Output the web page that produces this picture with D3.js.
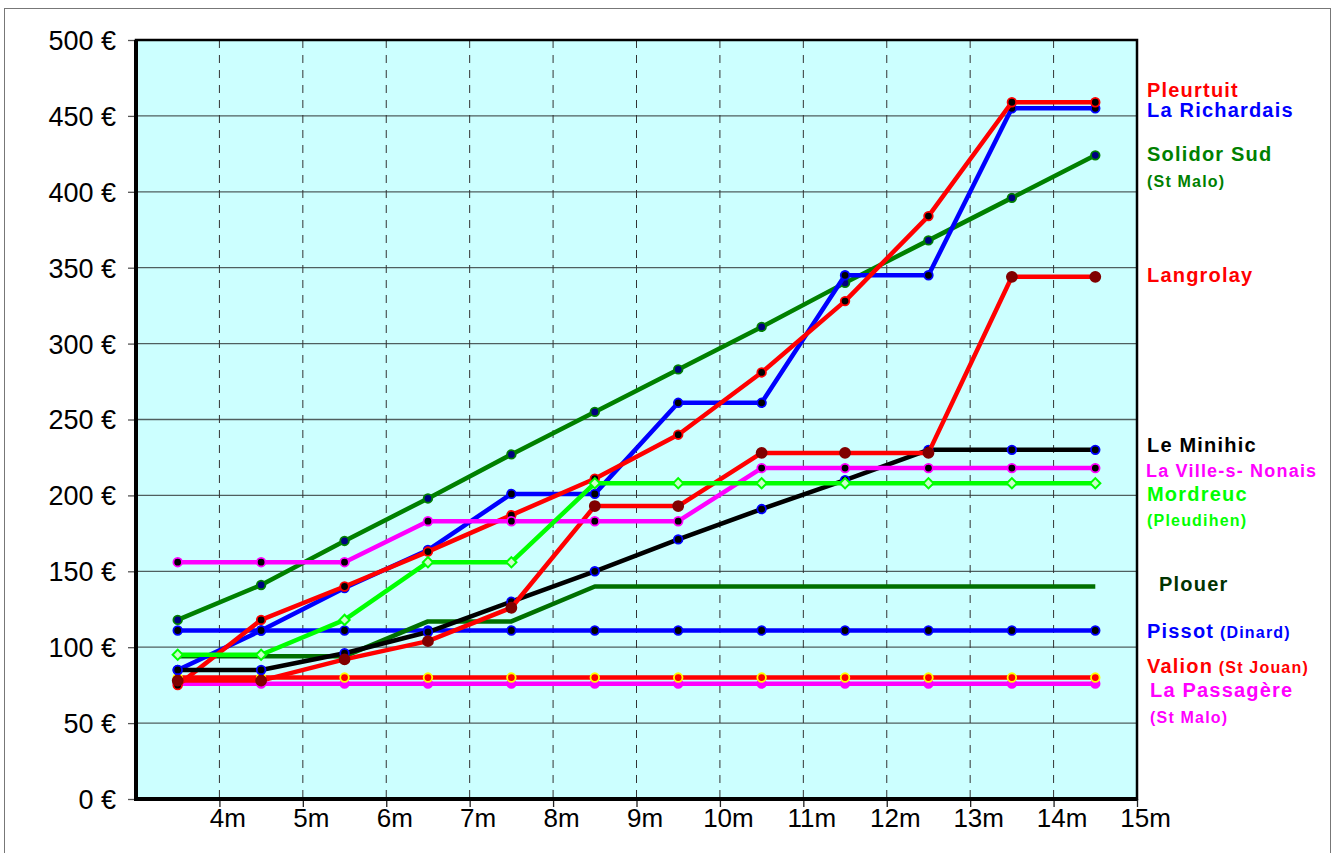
<!DOCTYPE html>
<html>
<head>
<meta charset="utf-8">
<script src="https://cdn.jsdelivr.net/npm/d3@7"></script>
<style>
	body { margin: 0; background: #fff; }
	text { font-family: "Liberation Sans", Arial, sans-serif; }
</style>
</head>
<body>
<div id="chart"></div>
<script>
// boat length (middle of each metre band) and price per series
const sizes = [3.5, 4.5, 5.5, 6.5, 7.5, 8.5, 9.5, 10.5, 11.5, 12.5, 13.5, 14.5];
const xTicks = [4, 5, 6, 7, 8, 9, 10, 11, 12, 13, 14, 15];
const yTicks = [0, 50, 100, 150, 200, 250, 300, 350, 400, 450, 500];

const pleurtuit    = [75, 118, 140, 163, 187, 211, 240, 281, 328, 384, 459, 459];
const laRichardais = [85, 111, 139, 164, 201, 201, 261, 261, 345, 345, 455, 455];
const solidorSud   = [118, 141, 170, 198, 227, 255, 283, 311, 340, 368, 396, 424];
const langrolay    = [78, 78, 92, 104, 126, 193, 193, 228, 228, 228, 344, 344];
const leMinihic    = [85, 85, 96, 110, 130, 150, 171, 191, 210, 230, 230, 230];
const laVille      = [156, 156, 156, 183, 183, 183, 183, 218, 218, 218, 218, 218];
const mordreuc     = [95, 95, 118, 156, 156, 208, 208, 208, 208, 208, 208, 208];
const plouer       = [94, 94, 94, 117, 117, 140, 140, 140, 140, 140, 140, 140];
const pissot       = [111, 111, 111, 111, 111, 111, 111, 111, 111, 111, 111, 111];
const valion       = [80, 80, 80, 80, 80, 80, 80, 80, 80, 80, 80, 80];
const passagere    = [76, 76, 76, 76, 76, 76, 76, 76, 76, 76, 76, 76];

const W = 1337, H = 853;
const plot = {left: 136, right: 1137, top: 40, bottom: 799};

const svg = d3.select("#chart")
	.append("svg")
		.attr("width", W)
		.attr("height", H);

// outer frame
svg.append("rect")
	.attr("x", 4.5).attr("y", 8.5)
	.attr("width", 1326).attr("height", 870)
	.attr("fill", "#fff")
	.attr("stroke", "#777")
	.attr("stroke-width", 1);

const x = d3.scaleLinear()
	.domain([3, 15])
	.range([plot.left, plot.right]);

const y = d3.scaleLinear()
	.domain([0, 500])
	.range([plot.bottom, plot.top]);

// plot background
svg.append("rect")
	.attr("x", plot.left).attr("y", plot.top)
	.attr("width", plot.right - plot.left)
	.attr("height", plot.bottom - plot.top)
	.attr("fill", "#ccffff");

// horizontal grid
svg.append("g")
	.selectAll("line")
	.data(yTicks.slice(1, -1))
	.join("line")
		.attr("x1", plot.left).attr("x2", plot.right)
		.attr("y1", d => y(d)).attr("y2", d => y(d))
		.attr("stroke", "#4f5f5f")
		.attr("stroke-width", 1.3);

// vertical dashed grid
svg.append("g")
	.selectAll("line")
	.data(xTicks.slice(0, -1))
	.join("line")
		.attr("x1", d => x(d)).attr("x2", d => x(d))
		.attr("y1", plot.top).attr("y2", plot.bottom)
		.attr("stroke", "#333")
		.attr("stroke-width", 1)
		.attr("stroke-dasharray", "8,7");

// axes
const yAxis = svg.append("g")
	.attr("transform", `translate(${plot.left},0)`)
	.call(d3.axisLeft(y).tickValues(yTicks).tickSize(8).tickPadding(12)
		.tickFormat(d => d + " €"));
yAxis.select(".domain").remove();
yAxis.selectAll("line").attr("stroke", "#555").attr("stroke-width", 1.3);
yAxis.selectAll("text")
	.attr("fill", "#000")
	.style("font-size", "27px")
	.attr("dy", "0.35em");

const xAxis = svg.append("g")
	.attr("transform", `translate(0,${plot.bottom})`)
	.call(d3.axisBottom(x).tickValues(xTicks).tickSize(8).tickPadding(5)
		.tickFormat(d => d + "m"));
xAxis.select(".domain").remove();
xAxis.selectAll("line").attr("stroke", "#222").attr("stroke-width", 1.3);
xAxis.selectAll("text")
	.attr("fill", "#000")
	.attr("x", 8)
	.attr("y", 28)
	.attr("dy", 0)
	.style("font-size", "26px");

// plot frame
svg.append("rect")
	.attr("x", plot.left).attr("y", plot.top)
	.attr("width", plot.right - plot.left)
	.attr("height", plot.bottom - plot.top)
	.attr("fill", "none")
	.attr("stroke", "#000")
	.attr("stroke-width", 2.5);
svg.append("path")
	.attr("d", `M${plot.left},${plot.top} V${plot.bottom} H${plot.right}`)
	.attr("fill", "none")
	.attr("stroke", "#000")
	.attr("stroke-width", 4);

// series, in drawing order
const series = [
	{values: passagere,    color: "#ff00ff", fill: "#ff00ff", ring: "#ff00ff"},
	{values: valion,       color: "#ff0000", fill: "#ff0000", ring: "#ffff00"},
	{values: pissot,       color: "#0000ff", fill: "#000",    ring: "#0000ff"},
	{values: plouer,       color: "#007000", fill: null},
	{values: solidorSud,   color: "#008000", fill: "#000080", ring: "#008000"},
	{values: laRichardais, color: "#0000ff", fill: "#000",    ring: "#0000ff"},
	{values: pleurtuit,    color: "#ff0000", fill: "#000",    ring: "#ff0000"},
	{values: leMinihic,    color: "#000",    fill: "#000",    ring: "#0000ff"},
	{values: langrolay,    color: "#ff0000", fill: "#800000", ring: "#800000", r: 5},
	{values: laVille,      color: "#ff00ff", fill: "#000",    ring: "#ff00ff"},
	{values: mordreuc,     color: "#00ff00", fill: "#ccffcc", ring: "#00ff00", diamond: true}
];

const line = d3.line()
	.x((d, i) => x(sizes[i]))
	.y(d => y(d));

series.forEach(s => {
	const g = svg.append("g");
	g.append("path")
		.datum(s.values)
		.attr("fill", "none")
		.attr("stroke", s.color)
		.attr("stroke-width", 4.5)
		.attr("stroke-linejoin", "round")
		.attr("d", line);

	if (!s.fill) return;
	if (s.diamond) {
		g.selectAll("path.m")
			.data(s.values)
			.join("path")
				.attr("class", "m")
				.attr("d", d3.symbol(d3.symbolSquare, 52))
				.attr("transform", (d, i) => `translate(${x(sizes[i])},${y(d)}) rotate(45)`)
				.attr("fill", s.fill)
				.attr("stroke", s.ring)
				.attr("stroke-width", 2);
	} else {
		g.selectAll("circle")
			.data(s.values)
			.join("circle")
				.attr("cx", (d, i) => x(sizes[i]))
				.attr("cy", d => y(d))
				.attr("r", s.r || 4.3)
				.attr("fill", s.fill)
				.attr("stroke", s.ring)
				.attr("stroke-width", 1.8);
	}
});

// labels on the right
const labels = [
	{parts: [["Pleurtuit", 20]], color: "#ff0000", y: 97},
	{parts: [["La Richardais", 20]], color: "#0000ff", y: 117},
	{parts: [["Solidor Sud", 20]], color: "#008000", y: 161},
	{parts: [["(St Malo)", 16]], color: "#008000", y: 187},
	{parts: [["Langrolay", 20]], color: "#ff0000", y: 282},
	{parts: [["Le Minihic", 20]], color: "#000", y: 452},
	{parts: [["La Ville-s- Nonais", 18]], color: "#ff00ff", y: 477, dx: -1},
	{parts: [["Mordreuc", 20]], color: "#00ff00", y: 501},
	{parts: [["(Pleudihen)", 16]], color: "#00ff00", y: 526},
	{parts: [["Plouer", 20]], color: "#003300", y: 591, dx: 12},
	{parts: [["Pissot", 20], [" (Dinard)", 16]], color: "#0000ff", y: 638},
	{parts: [["Valion", 20], [" (St Jouan)", 16]], color: "#ff0000", y: 673},
	{parts: [["La Passagère", 20]], color: "#ff00ff", y: 697, dx: 3},
	{parts: [["(St Malo)", 16]], color: "#ff00ff", y: 723, dx: 3}
];

const lab = svg.append("g")
	.selectAll("text")
	.data(labels)
	.join("text")
		.attr("x", d => 1147 + (d.dx || 0))
		.attr("y", d => d.y)
		.attr("fill", d => d.color)
		.style("font-weight", "bold")
		.style("letter-spacing", "1.2px");

lab.selectAll("tspan")
	.data(d => d.parts)
	.join("tspan")
		.style("font-size", d => d[1] + "px")
		.text(d => d[0]);
</script>
</body>
</html>
